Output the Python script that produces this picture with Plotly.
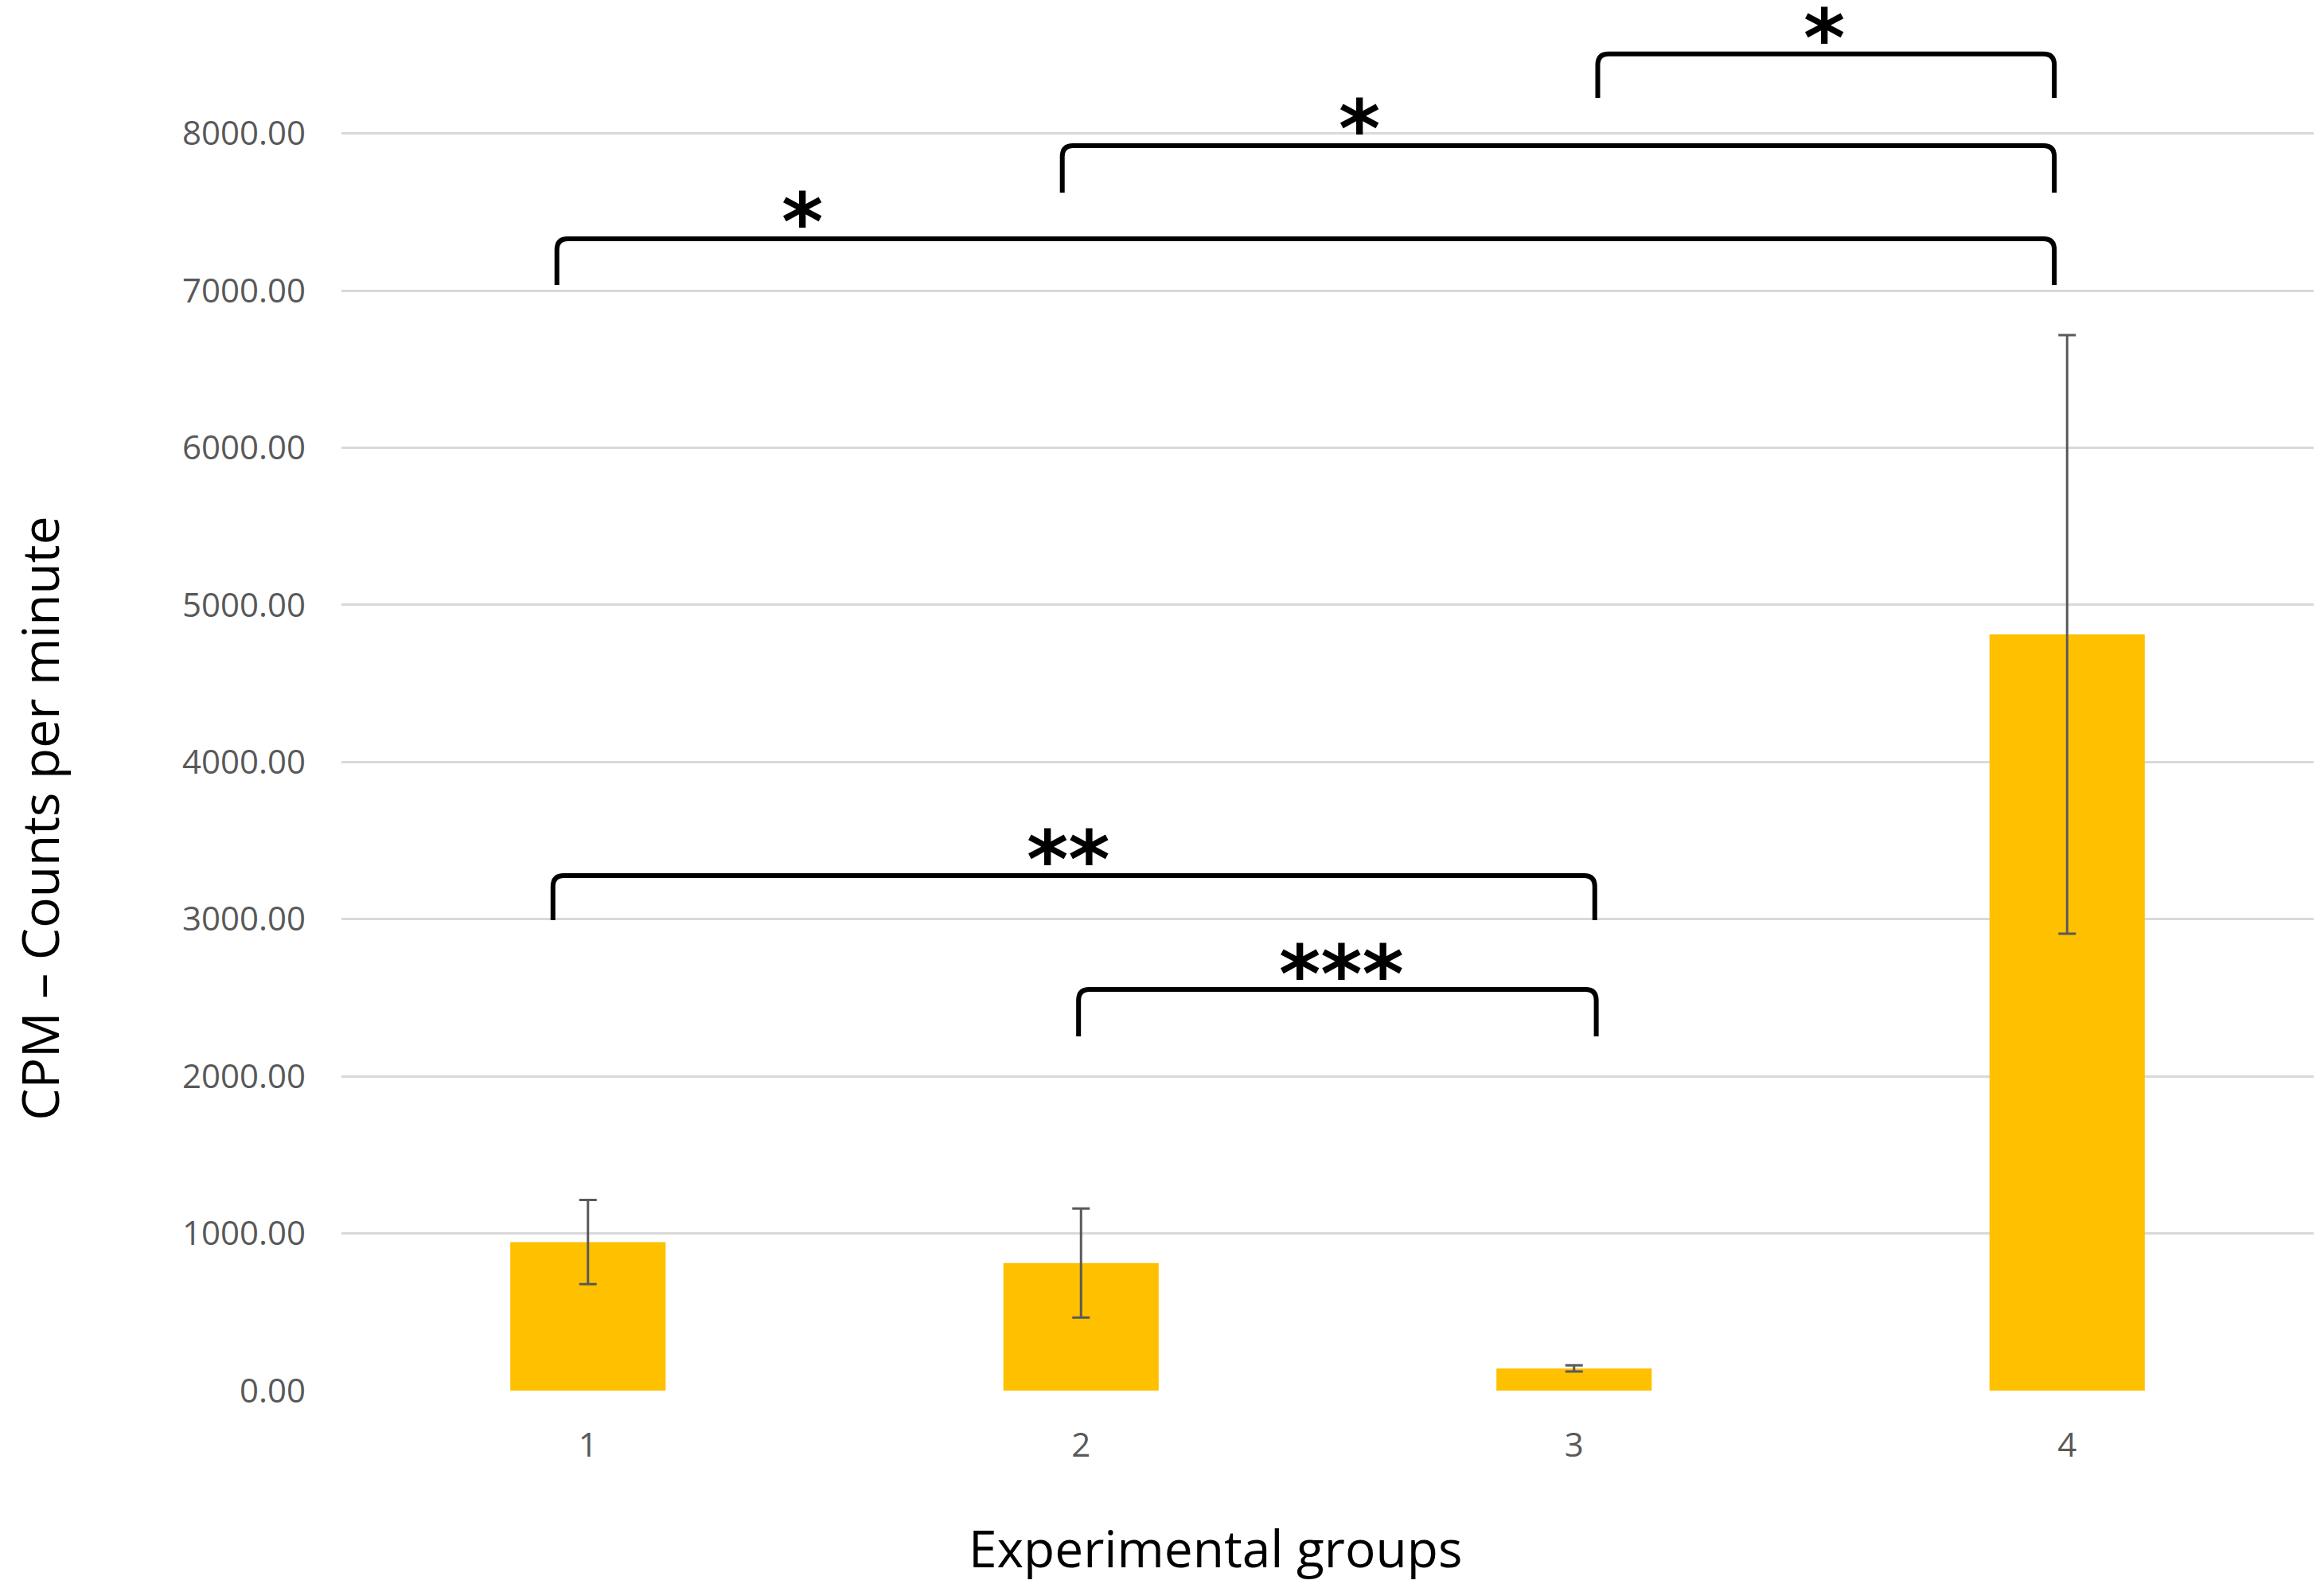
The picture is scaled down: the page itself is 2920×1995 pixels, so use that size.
import plotly.graph_objects as go

# ---- data ----
groups = [1, 2, 3, 4]
group_labels = ["1", "2", "3", "4"]
cpm_mean = [945, 812, 141, 4812]
cpm_err = [268, 347, 20, 1905]

y_tick_vals = [0, 1000, 2000, 3000, 4000, 5000, 6000, 7000, 8000]
y_tick_text = ["0.00", "1000.00", "2000.00", "3000.00", "4000.00",
               "5000.00", "6000.00", "7000.00", "8000.00"]

# significance brackets: left x, right x, top y, bottom y
br_x0 = [0.937, 1.962, 3.048, 0.929, 1.995]
br_x1 = [3.974, 3.974, 3.974, 3.042, 3.045]
br_top = [7330, 7923, 8506, 3278, 2553]
br_bot = [7036, 7624, 8227, 2994, 2254]
br_label = ["*", "*", "*", "**", "***"]
br_label_x = [1.434, 2.565, 3.508, 1.974, 2.529]
br_label_y = [7513, 8105, 8683, 3455, 2730]

# page has an 8px body margin, so the figure is reduced accordingly
W, H = 2912, 1987
ML, MR, MT, MB = 421, 13, 0, 248

fig = go.Figure()
fig.add_trace(go.Bar(
    x=groups, y=cpm_mean, width=0.315,
    marker=dict(color="#FFC000", line=dict(width=0)),
    error_y=dict(type="data", array=cpm_err, visible=True,
                 color="#595959", thickness=3, width=11),
    showlegend=False,
))

# bracket shapes
rx, ry = 0.022, 70
shapes = []
for x0, x1, yt, yb in zip(br_x0, br_x1, br_top, br_bot):
    path = (f"M {x0},{yb} L {x0},{yt-ry} Q {x0},{yt} {x0+rx},{yt} "
            f"L {x1-rx},{yt} Q {x1},{yt} {x1},{yt-ry} L {x1},{yb}")
    shapes.append(dict(type="path", path=path, xref="x", yref="y",
                       line=dict(color="black", width=6)))

annotations = []
for lab, lx, ly in zip(br_label, br_label_x, br_label_y):
    annotations.append(dict(
        x=lx, y=ly, xref="x", yref="y", text=lab, showarrow=False,
        font=dict(family="DejaVu Sans", size=100, color="black", weight="bold"),
        xanchor="center", yanchor="middle", yshift=-16))

annotations.append(dict(
    x=-0.153, y=0.4135, xref="paper", yref="paper",
    text="CPM – Counts per minute", textangle=-90, showarrow=False,
    font=dict(family="Open Sans", size=64, color="black"),
    xanchor="center", yanchor="middle"))
annotations.append(dict(
    x=0.443, y=-0.1136, xref="paper", yref="paper",
    text="Experimental groups", showarrow=False,
    font=dict(family="Open Sans", size=64, color="black"),
    xanchor="center", yanchor="middle"))

fig.update_layout(
    width=W, height=H,
    margin=dict(l=ML, r=MR, t=MT, b=MB, pad=0),
    paper_bgcolor="white", plot_bgcolor="white",
    shapes=shapes, annotations=annotations,
    xaxis=dict(range=[0.5, 4.5], tickvals=groups, ticktext=group_labels,
               showgrid=False, zeroline=False, showline=False, ticks="",
               tickfont=dict(family="Open Sans", size=42, color="#595959"),
               ticklabelstandoff=40),
    yaxis=dict(range=[0, 8809], tickvals=y_tick_vals, ticktext=y_tick_text,
               showgrid=True, gridcolor="#D9D9D9", gridwidth=3,
               zeroline=False, showline=False, ticks="",
               tickfont=dict(family="Open Sans", size=42, color="#595959"),
               ticklabelstandoff=44),
)

fig.write_html("out.html")
